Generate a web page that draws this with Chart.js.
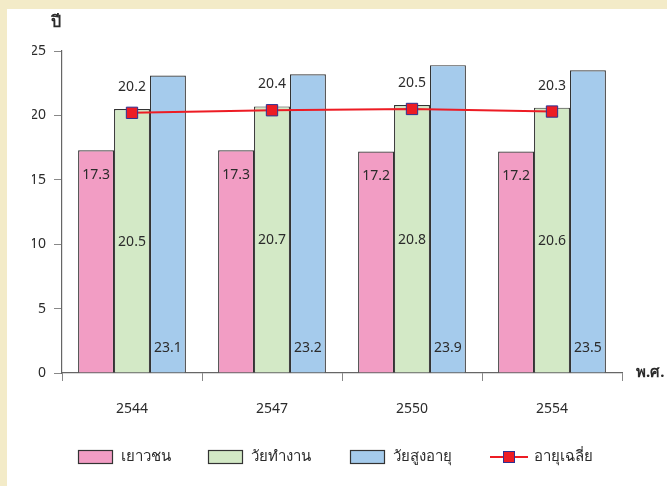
<!DOCTYPE html>
<html>
<head>
<meta charset="utf-8">
<script src="https://cdn.jsdelivr.net/npm/chart.js@4.4.1/dist/chart.umd.min.js"></script>
<style>
  html, body { margin: 0; padding: 0; }
  #frame { width: 667px; height: 486px; background: #f3ebc8; position: relative; }
  #paper { position: absolute; left: 7px; top: 9px; width: 660px; height: 477px; background: #fff; }
  canvas { display: block; }
</style>
</head>
<body>
<div id="frame">
  <div id="paper">
    <canvas id="myChart" width="660" height="477"></canvas>
  </div>
</div>
<script>
// values
const years = ["2544", "2547", "2550", "2554"];
const youth = [17.3, 17.3, 17.2, 17.2];
const working = [20.5, 20.7, 20.8, 20.6];
const elderly = [23.1, 23.2, 23.9, 23.5];
const average = [20.2, 20.4, 20.5, 20.3];
const yTicks = [0, 5, 10, 15, 20, 25];

const seriesNames = ["เยาวชน", "วัยทำงาน", "วัยสูงอายุ", "อายุเฉลี่ย"];
const fontFamily = "'Noto Sans', 'Liberation Sans', sans-serif";
const textColor = "#2b2b2b";

// draws value labels, the unit captions and the legend
const labelPlugin = {
  id: "labels",
  afterDatasetsDraw(chart) {
    const ctx = chart.ctx;
    const area = chart.chartArea;
    ctx.save();
    ctx.fillStyle = textColor;
    ctx.font = "14px " + fontFamily;
    ctx.textAlign = "center";
    ctx.textBaseline = "middle";

    // dataset 0 is the line, 1..3 are the bars
    // youth: near the top inside the bar
    chart.getDatasetMeta(1).data.forEach((bar, i) => {
      ctx.fillText(youth[i].toFixed(1), bar.x, bar.y + 25);
    });
    // working: middle of the bar
    chart.getDatasetMeta(2).data.forEach((bar, i) => {
      ctx.fillText(working[i].toFixed(1), bar.x, (bar.y + bar.base) / 2 + 1);
    });
    // elderly: near the bottom of the bar
    chart.getDatasetMeta(3).data.forEach((bar, i) => {
      ctx.fillText(elderly[i].toFixed(1), bar.x, bar.base - 24);
    });
    // average: above the marker
    chart.getDatasetMeta(0).data.forEach((pt, i) => {
      ctx.fillText(average[i].toFixed(1), pt.x, pt.y - 26);
    });

    // axis captions
    ctx.font = "bold 16px " + fontFamily;
    ctx.fillText("ปี", area.left - 6, 13);
    ctx.textAlign = "left";
    ctx.font = "bold 15px " + fontFamily;
    ctx.fillText("พ.ศ.", area.right + 14, area.bottom);

    // legend
    const ly = 448;
    const boxes = [
      { x: 71, color: "#f29dc4", name: seriesNames[0] },
      { x: 201, color: "#d3e9c6", name: seriesNames[1] },
      { x: 343, color: "#a5cbec", name: seriesNames[2] }
    ];
    ctx.font = "15px " + fontFamily;
    ctx.lineWidth = 1.2;
    ctx.strokeStyle = "#333";
    boxes.forEach((b) => {
      ctx.fillStyle = b.color;
      ctx.fillRect(b.x, ly - 7, 35, 14);
      ctx.strokeRect(b.x + 0.5, ly - 6.5, 34, 13);
      ctx.fillStyle = textColor;
      ctx.fillText(b.name, b.x + 43, ly);
    });
    ctx.strokeStyle = "#ed1c24";
    ctx.lineWidth = 2;
    ctx.beginPath();
    ctx.moveTo(483, ly);
    ctx.lineTo(521, ly);
    ctx.stroke();
    ctx.fillStyle = "#ed1c24";
    ctx.fillRect(496, ly - 6, 12, 12);
    ctx.strokeStyle = "#2e3192";
    ctx.lineWidth = 1;
    ctx.strokeRect(496.5, ly - 5.5, 11, 11);
    ctx.fillStyle = textColor;
    ctx.fillText(seriesNames[3], 527, ly);
    ctx.restore();
  }
};

const ctx = document.getElementById("myChart");

new Chart(ctx, {
  data: {
    labels: years,
    datasets: [
      {
        type: "line",
        label: seriesNames[3],
        data: average,
        borderColor: "#ed1c24",
        borderWidth: 2,
        backgroundColor: "#ed1c24",
        pointStyle: "rect",
        pointRadius: 8,
        pointBackgroundColor: "#ed1c24",
        pointBorderColor: "#2e3192",
        pointBorderWidth: 1,
        order: 0,
      },
      {
        type: "bar",
        label: seriesNames[0],
        data: youth,
        backgroundColor: "#f29dc4",
        borderColor: "#333",
        borderWidth: 1.2,
        order: 1,
      },
      {
        type: "bar",
        label: seriesNames[1],
        data: working,
        backgroundColor: "#d3e9c6",
        borderColor: "#333",
        borderWidth: 1.2,
        order: 1,
      },
      {
        type: "bar",
        label: seriesNames[2],
        data: elderly,
        backgroundColor: "#a5cbec",
        borderColor: "#333",
        borderWidth: 1.2,
        order: 1,
      },
    ],
  },
  options: {
    responsive: false,
    animation: false,
    devicePixelRatio: 1,
    datasets: {
      bar: { categoryPercentage: 0.77, barPercentage: 1.0 },
    },
    layout: { padding: { left: 25, top: 42, right: 45, bottom: 0 } },
    plugins: {
      legend: { display: false },
      tooltip: { enabled: false },
    },
    scales: {
      x: {
        offset: true,
        grid: {
          offset: true,
          drawOnChartArea: false,
          tickLength: 8,
          color: "#888",
        },
        border: { color: "#666", width: 1.2 },
        ticks: {
          color: textColor,
          font: { size: 14, family: fontFamily },
          padding: 20,
        },
        afterFit(scale) { scale.height = 113; },
      },
      y: {
        min: 0,
        max: 25,
        afterBuildTicks(scale) { scale.ticks = yTicks.map((v) => ({ value: v })); },
        grid: {
          drawOnChartArea: false,
          tickLength: 8,
          color: "#888",
        },
        border: { color: "#666", width: 1.2 },
        ticks: {
          color: textColor,
          font: { size: 14, family: fontFamily },
          padding: 8,
        },
        afterFit(scale) { scale.width = 30; },
      },
    },
  },
  plugins: [labelPlugin],
});
</script>
</body>
</html>
